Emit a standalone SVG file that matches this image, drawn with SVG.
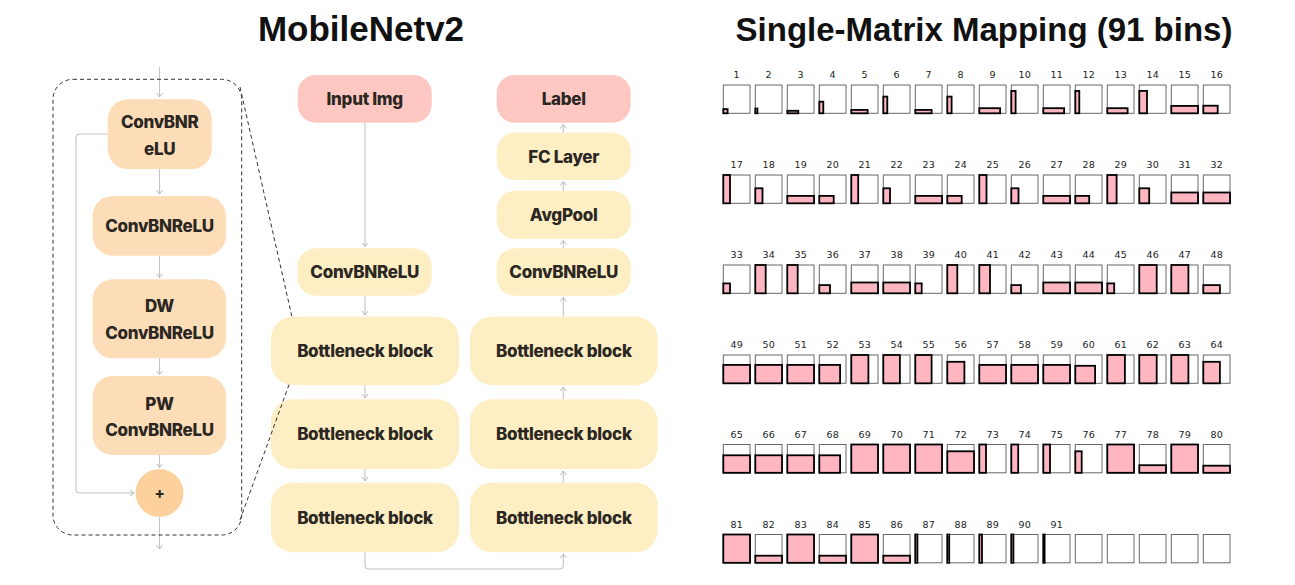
<svg xmlns="http://www.w3.org/2000/svg" xmlns:xlink="http://www.w3.org/1999/xlink" width="1295" height="585" viewBox="0 0 1295 585">
<style>
.title{font-family:"Liberation Sans",Arial,sans-serif;font-weight:700;font-size:33px;fill:#111;text-anchor:middle}
.nt{font-family:Inter,"Liberation Sans",sans-serif;font-weight:800;font-size:17px;fill:#2b2722;text-anchor:middle;letter-spacing:-0.3px}
.peach{fill:#FDDDB8}
.yel{fill:#FEEEC4}
.pink{fill:#FFC7C2}
.plus{fill:#FDD19D}
.cn{fill:none;stroke:#C4C4C4;stroke-width:1.1}
.dash{fill:none;stroke:#333;stroke-width:1;stroke-dasharray:4 3}
.p{fill:#FFB6C1;stroke:#000;stroke-width:1.8}
.n{font-family:"DejaVu Sans",sans-serif;font-size:9.5px;fill:#222;text-anchor:middle}
</style>
<defs>
<marker id="ah" markerWidth="8" markerHeight="8" refX="4" refY="3" orient="auto" markerUnits="userSpaceOnUse">
<path d="M0,0 L4,3 L0,6" fill="none" stroke="#B8B8B8" stroke-width="1"/>
</marker>
<rect id="f" width="26.7" height="28.3" fill="none" stroke="#666" stroke-width="1"/>
</defs>
<rect width="1295" height="585" fill="#fff"/>
<text class="title" x="361" y="41" style="font-size:35px">MobileNetv2</text>
<text class="title" x="984" y="41">Single-Matrix Mapping (91 bins)</text>

<g id="connectors">
<path class="cn" d="M159.5,67 V97" marker-end="url(#ah)"/>
<path class="cn" d="M159.5,169 V194" marker-end="url(#ah)"/>
<path class="cn" d="M159.5,255.7 V277.5" marker-end="url(#ah)"/>
<path class="cn" d="M159.5,358.3 V374.5" marker-end="url(#ah)"/>
<path class="cn" d="M159.5,455 V467.5" marker-end="url(#ah)"/>
<path class="cn" d="M107.7,134 H80 Q76,134 76,138 V489 Q76,493 80,493 H134" marker-end="url(#ah)"/>
<path class="cn" d="M159.5,517.5 V549" marker-end="url(#ah)"/>
<path class="cn" d="M365,122.7 V246.5" marker-end="url(#ah)"/>
<path class="cn" d="M365,295.7 V315" marker-end="url(#ah)"/>
<path class="cn" d="M365,385 V398" marker-end="url(#ah)"/>
<path class="cn" d="M365,469 V481" marker-end="url(#ah)"/>
<path class="cn" d="M365,552.3 V565 Q365,569 369,569 H559.3 Q563.3,569 563.3,565 V554" marker-end="url(#ah)"/>
<path class="cn" d="M563.3,482.7 V471" marker-end="url(#ah)"/>
<path class="cn" d="M563.3,399.3 V387" marker-end="url(#ah)"/>
<path class="cn" d="M563.3,316.7 V297.5" marker-end="url(#ah)"/>
<path class="cn" d="M563.3,248.3 V240.5" marker-end="url(#ah)"/>
<path class="cn" d="M563.3,191 V181.5" marker-end="url(#ah)"/>
<path class="cn" d="M563.3,132.7 V124.5" marker-end="url(#ah)"/>
</g>

<g id="block-detail">
<rect class="dash" x="53" y="79.3" width="188.7" height="455.7" rx="20"/>
</g>
<g id="n-convbnr"><rect class="peach" x="107.7" y="99.3" width="104" height="69.7" rx="20"/><text class="nt" x="159.7" y="128.3">ConvBNR</text><text class="nt" x="159.7" y="154.5">eLU</text></g>
<g id="n-convbnrelu1"><rect class="peach" x="92.7" y="196" width="133.3" height="59.7" rx="20"/><text class="nt" x="159.5" y="232">ConvBNReLU</text></g>
<g id="n-dw"><rect class="peach" x="92.7" y="279.3" width="133.3" height="79" rx="20"/><text class="nt" x="159.5" y="312.3">DW</text><text class="nt" x="159.5" y="339.3">ConvBNReLU</text></g>
<g id="n-pw"><rect class="peach" x="92.7" y="376" width="133.3" height="79" rx="20"/><text class="nt" x="159.5" y="410">PW</text><text class="nt" x="159.5" y="436.3">ConvBNReLU</text></g>
<g id="n-plus"><circle class="plus" cx="159.5" cy="493" r="24"/><text class="nt" x="159.5" y="498.5" style="font-size:15px">+</text></g>

<g id="n-input"><rect class="pink" x="297.7" y="75" width="134" height="47.7" rx="18"/><text class="nt" x="364.7" y="105">Input Img</text></g>
<g id="n-label"><rect class="pink" x="496.7" y="75" width="134" height="47.7" rx="18"/><text class="nt" x="563.7" y="105">Label</text></g>
<g id="n-fc"><rect class="yel" x="496.7" y="132.7" width="134" height="47.3" rx="18"/><text class="nt" x="563.7" y="162.5">FC Layer</text></g>
<g id="n-avgpool"><rect class="yel" x="496.7" y="191" width="134" height="48" rx="18"/><text class="nt" x="563.7" y="221">AvgPool</text></g>
<g id="n-convL"><rect class="yel" x="297.7" y="248.3" width="134" height="47.4" rx="18"/><text class="nt" x="364.7" y="278">ConvBNReLU</text></g>
<g id="n-convR"><rect class="yel" x="496.7" y="248.3" width="134" height="47.4" rx="18"/><text class="nt" x="563.7" y="278">ConvBNReLU</text></g>
<g id="n-bL1"><rect class="yel" x="271" y="316.7" width="188" height="68.3" rx="22"/><text class="nt" x="365" y="357">Bottleneck block</text></g>
<g id="n-bL2"><rect class="yel" x="271" y="399.3" width="188" height="69.7" rx="22"/><text class="nt" x="365" y="440.3">Bottleneck block</text></g>
<g id="n-bL3"><rect class="yel" x="271" y="482.7" width="188" height="69.6" rx="22"/><text class="nt" x="365" y="523.7">Bottleneck block</text></g>
<g id="n-bR1"><rect class="yel" x="470" y="316.7" width="187.7" height="68.3" rx="22"/><text class="nt" x="563.8" y="357">Bottleneck block</text></g>
<g id="n-bR2"><rect class="yel" x="470" y="399.3" width="187.7" height="69.7" rx="22"/><text class="nt" x="563.8" y="440.3">Bottleneck block</text></g>
<g id="n-bR3"><rect class="yel" x="470" y="482.7" width="187.7" height="69.6" rx="22"/><text class="nt" x="563.8" y="523.7">Bottleneck block</text></g>

<g id="zoom-lines">
<path class="dash" d="M240,87 L292,317"/>
<path class="dash" d="M240,520 L290,382"/>
</g>

<g id="matrix-grid">
<g transform="translate(723.3 85)"><use xlink:href="#f"/><rect class="p" y="24.1" width="4.3" height="4.2"/><text class="n" x="13.35" y="-6.7">1</text></g>
<g transform="translate(755.3 85)"><use xlink:href="#f"/><rect class="p" y="23.5" width="2.1" height="4.8"/><text class="n" x="13.35" y="-6.7">2</text></g>
<g transform="translate(787.3 85)"><use xlink:href="#f"/><rect class="p" y="25.8" width="11" height="2.5"/><text class="n" x="13.35" y="-6.7">3</text></g>
<g transform="translate(819.3 85)"><use xlink:href="#f"/><rect class="p" y="16.7" width="4" height="11.6"/><text class="n" x="13.35" y="-6.7">4</text></g>
<g transform="translate(851.3 85)"><use xlink:href="#f"/><rect class="p" y="24.9" width="16.3" height="3.4"/><text class="n" x="13.35" y="-6.7">5</text></g>
<g transform="translate(883.3 85)"><use xlink:href="#f"/><rect class="p" y="11.6" width="4" height="16.7"/><text class="n" x="13.35" y="-6.7">6</text></g>
<g transform="translate(915.3 85)"><use xlink:href="#f"/><rect class="p" y="24.9" width="16.3" height="3.4"/><text class="n" x="13.35" y="-6.7">7</text></g>
<g transform="translate(947.3 85)"><use xlink:href="#f"/><rect class="p" y="11.6" width="4.3" height="16.7"/><text class="n" x="13.35" y="-6.7">8</text></g>
<g transform="translate(979.3 85)"><use xlink:href="#f"/><rect class="p" y="23.2" width="20.8" height="5.1"/><text class="n" x="13.35" y="-6.7">9</text></g>
<g transform="translate(1011.3 85)"><use xlink:href="#f"/><rect class="p" y="5.9" width="4.3" height="22.4"/><text class="n" x="13.35" y="-6.7">10</text></g>
<g transform="translate(1043.3 85)"><use xlink:href="#f"/><rect class="p" y="23.2" width="20.8" height="5.1"/><text class="n" x="13.35" y="-6.7">11</text></g>
<g transform="translate(1075.3 85)"><use xlink:href="#f"/><rect class="p" y="5.9" width="4" height="22.4"/><text class="n" x="13.35" y="-6.7">12</text></g>
<g transform="translate(1107.3 85)"><use xlink:href="#f"/><rect class="p" y="23.2" width="20.3" height="5.1"/><text class="n" x="13.35" y="-6.7">13</text></g>
<g transform="translate(1139.3 85)"><use xlink:href="#f"/><rect class="p" y="5.9" width="7.7" height="22.4"/><text class="n" x="13.35" y="-6.7">14</text></g>
<g transform="translate(1171.3 85)"><use xlink:href="#f"/><rect class="p" y="20.9" width="26.7" height="7.4"/><text class="n" x="13.35" y="-6.7">15</text></g>
<g transform="translate(1203.3 85)"><use xlink:href="#f"/><rect class="p" y="20.7" width="14.4" height="7.6"/><text class="n" x="13.35" y="-6.7">16</text></g>

<g transform="translate(723.3 175)"><use xlink:href="#f"/><rect class="p" y="0" width="6.7" height="28.3"/><text class="n" x="13.35" y="-6.7">17</text></g>
<g transform="translate(755.3 175)"><use xlink:href="#f"/><rect class="p" y="13.3" width="7.2" height="15"/><text class="n" x="13.35" y="-6.7">18</text></g>
<g transform="translate(787.3 175)"><use xlink:href="#f"/><rect class="p" y="20.9" width="26.7" height="7.4"/><text class="n" x="13.35" y="-6.7">19</text></g>
<g transform="translate(819.3 175)"><use xlink:href="#f"/><rect class="p" y="20.9" width="14.4" height="7.4"/><text class="n" x="13.35" y="-6.7">20</text></g>
<g transform="translate(851.3 175)"><use xlink:href="#f"/><rect class="p" y="0" width="6.9" height="28.3"/><text class="n" x="13.35" y="-6.7">21</text></g>
<g transform="translate(883.3 175)"><use xlink:href="#f"/><rect class="p" y="13.3" width="6.7" height="15"/><text class="n" x="13.35" y="-6.7">22</text></g>
<g transform="translate(915.3 175)"><use xlink:href="#f"/><rect class="p" y="20.9" width="26.7" height="7.4"/><text class="n" x="13.35" y="-6.7">23</text></g>
<g transform="translate(947.3 175)"><use xlink:href="#f"/><rect class="p" y="20.9" width="14.4" height="7.4"/><text class="n" x="13.35" y="-6.7">24</text></g>
<g transform="translate(979.3 175)"><use xlink:href="#f"/><rect class="p" y="0" width="7.2" height="28.3"/><text class="n" x="13.35" y="-6.7">25</text></g>
<g transform="translate(1011.3 175)"><use xlink:href="#f"/><rect class="p" y="13.3" width="7.2" height="15"/><text class="n" x="13.35" y="-6.7">26</text></g>
<g transform="translate(1043.3 175)"><use xlink:href="#f"/><rect class="p" y="20.9" width="26.7" height="7.4"/><text class="n" x="13.35" y="-6.7">27</text></g>
<g transform="translate(1075.3 175)"><use xlink:href="#f"/><rect class="p" y="20.9" width="13.9" height="7.4"/><text class="n" x="13.35" y="-6.7">28</text></g>
<g transform="translate(1107.3 175)"><use xlink:href="#f"/><rect class="p" y="0" width="9.3" height="28.3"/><text class="n" x="13.35" y="-6.7">29</text></g>
<g transform="translate(1139.3 175)"><use xlink:href="#f"/><rect class="p" y="13.3" width="9.9" height="15"/><text class="n" x="13.35" y="-6.7">30</text></g>
<g transform="translate(1171.3 175)"><use xlink:href="#f"/><rect class="p" y="17.5" width="26.7" height="10.8"/><text class="n" x="13.35" y="-6.7">31</text></g>
<g transform="translate(1203.3 175)"><use xlink:href="#f"/><rect class="p" y="17.5" width="26.7" height="10.8"/><text class="n" x="13.35" y="-6.7">32</text></g>

<g transform="translate(723.3 265)"><use xlink:href="#f"/><rect class="p" y="18.4" width="6.7" height="9.9"/><text class="n" x="13.35" y="-6.7">33</text></g>
<g transform="translate(755.3 265)"><use xlink:href="#f"/><rect class="p" y="0" width="10.4" height="28.3"/><text class="n" x="13.35" y="-6.7">34</text></g>
<g transform="translate(787.3 265)"><use xlink:href="#f"/><rect class="p" y="0" width="10.4" height="28.3"/><text class="n" x="13.35" y="-6.7">35</text></g>
<g transform="translate(819.3 265)"><use xlink:href="#f"/><rect class="p" y="20.1" width="10.7" height="8.2"/><text class="n" x="13.35" y="-6.7">36</text></g>
<g transform="translate(851.3 265)"><use xlink:href="#f"/><rect class="p" y="17.5" width="26.7" height="10.8"/><text class="n" x="13.35" y="-6.7">37</text></g>
<g transform="translate(883.3 265)"><use xlink:href="#f"/><rect class="p" y="17.5" width="26.7" height="10.8"/><text class="n" x="13.35" y="-6.7">38</text></g>
<g transform="translate(915.3 265)"><use xlink:href="#f"/><rect class="p" y="18.4" width="6.4" height="9.9"/><text class="n" x="13.35" y="-6.7">39</text></g>
<g transform="translate(947.3 265)"><use xlink:href="#f"/><rect class="p" y="0" width="10" height="28.3"/><text class="n" x="13.35" y="-6.7">40</text></g>
<g transform="translate(979.3 265)"><use xlink:href="#f"/><rect class="p" y="0" width="10.7" height="28.3"/><text class="n" x="13.35" y="-6.7">41</text></g>
<g transform="translate(1011.3 265)"><use xlink:href="#f"/><rect class="p" y="20.1" width="9.6" height="8.2"/><text class="n" x="13.35" y="-6.7">42</text></g>
<g transform="translate(1043.3 265)"><use xlink:href="#f"/><rect class="p" y="17.5" width="26.7" height="10.8"/><text class="n" x="13.35" y="-6.7">43</text></g>
<g transform="translate(1075.3 265)"><use xlink:href="#f"/><rect class="p" y="17.5" width="26.7" height="10.8"/><text class="n" x="13.35" y="-6.7">44</text></g>
<g transform="translate(1107.3 265)"><use xlink:href="#f"/><rect class="p" y="18.4" width="6.9" height="9.9"/><text class="n" x="13.35" y="-6.7">45</text></g>
<g transform="translate(1139.3 265)"><use xlink:href="#f"/><rect class="p" y="0" width="17.4" height="28.3"/><text class="n" x="13.35" y="-6.7">46</text></g>
<g transform="translate(1171.3 265)"><use xlink:href="#f"/><rect class="p" y="0" width="17.1" height="28.3"/><text class="n" x="13.35" y="-6.7">47</text></g>
<g transform="translate(1203.3 265)"><use xlink:href="#f"/><rect class="p" y="20.1" width="16.6" height="8.2"/><text class="n" x="13.35" y="-6.7">48</text></g>

<g transform="translate(723.3 355)"><use xlink:href="#f"/><rect class="p" y="9.9" width="26.7" height="18.4"/><text class="n" x="13.35" y="-6.7">49</text></g>
<g transform="translate(755.3 355)"><use xlink:href="#f"/><rect class="p" y="9.9" width="26.7" height="18.4"/><text class="n" x="13.35" y="-6.7">50</text></g>
<g transform="translate(787.3 355)"><use xlink:href="#f"/><rect class="p" y="9.9" width="26.7" height="18.4"/><text class="n" x="13.35" y="-6.7">51</text></g>
<g transform="translate(819.3 355)"><use xlink:href="#f"/><rect class="p" y="9.9" width="20.8" height="18.4"/><text class="n" x="13.35" y="-6.7">52</text></g>
<g transform="translate(851.3 355)"><use xlink:href="#f"/><rect class="p" y="0" width="17.1" height="28.3"/><text class="n" x="13.35" y="-6.7">53</text></g>
<g transform="translate(883.3 355)"><use xlink:href="#f"/><rect class="p" y="0" width="16.6" height="28.3"/><text class="n" x="13.35" y="-6.7">54</text></g>
<g transform="translate(915.3 355)"><use xlink:href="#f"/><rect class="p" y="0" width="16.3" height="28.3"/><text class="n" x="13.35" y="-6.7">55</text></g>
<g transform="translate(947.3 355)"><use xlink:href="#f"/><rect class="p" y="6.8" width="17.1" height="21.5"/><text class="n" x="13.35" y="-6.7">56</text></g>
<g transform="translate(979.3 355)"><use xlink:href="#f"/><rect class="p" y="9.9" width="26.7" height="18.4"/><text class="n" x="13.35" y="-6.7">57</text></g>
<g transform="translate(1011.3 355)"><use xlink:href="#f"/><rect class="p" y="9.9" width="26.7" height="18.4"/><text class="n" x="13.35" y="-6.7">58</text></g>
<g transform="translate(1043.3 355)"><use xlink:href="#f"/><rect class="p" y="9.9" width="26.7" height="18.4"/><text class="n" x="13.35" y="-6.7">59</text></g>
<g transform="translate(1075.3 355)"><use xlink:href="#f"/><rect class="p" y="10.8" width="19.8" height="17.5"/><text class="n" x="13.35" y="-6.7">60</text></g>
<g transform="translate(1107.3 355)"><use xlink:href="#f"/><rect class="p" y="0" width="17.6" height="28.3"/><text class="n" x="13.35" y="-6.7">61</text></g>
<g transform="translate(1139.3 355)"><use xlink:href="#f"/><rect class="p" y="0" width="17.4" height="28.3"/><text class="n" x="13.35" y="-6.7">62</text></g>
<g transform="translate(1171.3 355)"><use xlink:href="#f"/><rect class="p" y="0" width="17.1" height="28.3"/><text class="n" x="13.35" y="-6.7">63</text></g>
<g transform="translate(1203.3 355)"><use xlink:href="#f"/><rect class="p" y="6.8" width="16.6" height="21.5"/><text class="n" x="13.35" y="-6.7">64</text></g>

<g transform="translate(723.3 444.5)"><use xlink:href="#f"/><rect class="p" y="10.8" width="26.7" height="17.5"/><text class="n" x="13.35" y="-6.7">65</text></g>
<g transform="translate(755.3 444.5)"><use xlink:href="#f"/><rect class="p" y="10.8" width="26.7" height="17.5"/><text class="n" x="13.35" y="-6.7">66</text></g>
<g transform="translate(787.3 444.5)"><use xlink:href="#f"/><rect class="p" y="10.8" width="26.7" height="17.5"/><text class="n" x="13.35" y="-6.7">67</text></g>
<g transform="translate(819.3 444.5)"><use xlink:href="#f"/><rect class="p" y="10.8" width="20.8" height="17.5"/><text class="n" x="13.35" y="-6.7">68</text></g>
<g transform="translate(851.3 444.5)"><use xlink:href="#f"/><rect class="p" y="0" width="26.7" height="28.3"/><text class="n" x="13.35" y="-6.7">69</text></g>
<g transform="translate(883.3 444.5)"><use xlink:href="#f"/><rect class="p" y="0" width="26.7" height="28.3"/><text class="n" x="13.35" y="-6.7">70</text></g>
<g transform="translate(915.3 444.5)"><use xlink:href="#f"/><rect class="p" y="0" width="26.7" height="28.3"/><text class="n" x="13.35" y="-6.7">71</text></g>
<g transform="translate(947.3 444.5)"><use xlink:href="#f"/><rect class="p" y="6.8" width="26.7" height="21.5"/><text class="n" x="13.35" y="-6.7">72</text></g>
<g transform="translate(979.3 444.5)"><use xlink:href="#f"/><rect class="p" y="0" width="6.7" height="28.3"/><text class="n" x="13.35" y="-6.7">73</text></g>
<g transform="translate(1011.3 444.5)"><use xlink:href="#f"/><rect class="p" y="0" width="6.9" height="28.3"/><text class="n" x="13.35" y="-6.7">74</text></g>
<g transform="translate(1043.3 444.5)"><use xlink:href="#f"/><rect class="p" y="0" width="6.7" height="28.3"/><text class="n" x="13.35" y="-6.7">75</text></g>
<g transform="translate(1075.3 444.5)"><use xlink:href="#f"/><rect class="p" y="6.8" width="6.4" height="21.5"/><text class="n" x="13.35" y="-6.7">76</text></g>
<g transform="translate(1107.3 444.5)"><use xlink:href="#f"/><rect class="p" y="0" width="26.7" height="28.3"/><text class="n" x="13.35" y="-6.7">77</text></g>
<g transform="translate(1139.3 444.5)"><use xlink:href="#f"/><rect class="p" y="20.7" width="26.7" height="7.6"/><text class="n" x="13.35" y="-6.7">78</text></g>
<g transform="translate(1171.3 444.5)"><use xlink:href="#f"/><rect class="p" y="0" width="26.7" height="28.3"/><text class="n" x="13.35" y="-6.7">79</text></g>
<g transform="translate(1203.3 444.5)"><use xlink:href="#f"/><rect class="p" y="21.2" width="26.7" height="7.1"/><text class="n" x="13.35" y="-6.7">80</text></g>

<g transform="translate(723.3 534.5)"><use xlink:href="#f"/><rect class="p" y="0" width="26.7" height="28.3"/><text class="n" x="13.35" y="-6.7">81</text></g>
<g transform="translate(755.3 534.5)"><use xlink:href="#f"/><rect class="p" y="21.2" width="26.7" height="7.1"/><text class="n" x="13.35" y="-6.7">82</text></g>
<g transform="translate(787.3 534.5)"><use xlink:href="#f"/><rect class="p" y="0" width="26.7" height="28.3"/><text class="n" x="13.35" y="-6.7">83</text></g>
<g transform="translate(819.3 534.5)"><use xlink:href="#f"/><rect class="p" y="21.2" width="26.7" height="7.1"/><text class="n" x="13.35" y="-6.7">84</text></g>
<g transform="translate(851.3 534.5)"><use xlink:href="#f"/><rect class="p" y="0" width="26.7" height="28.3"/><text class="n" x="13.35" y="-6.7">85</text></g>
<g transform="translate(883.3 534.5)"><use xlink:href="#f"/><rect class="p" y="21.2" width="26.7" height="7.1"/><text class="n" x="13.35" y="-6.7">86</text></g>
<g transform="translate(915.3 534.5)"><use xlink:href="#f"/><rect class="p" y="0" width="2.1" height="28.3"/><text class="n" x="13.35" y="-6.7">87</text></g>
<g transform="translate(947.3 534.5)"><use xlink:href="#f"/><rect class="p" y="0" width="1.9" height="28.3"/><text class="n" x="13.35" y="-6.7">88</text></g>
<g transform="translate(979.3 534.5)"><use xlink:href="#f"/><rect class="p" y="0" width="2.7" height="28.3"/><text class="n" x="13.35" y="-6.7">89</text></g>
<g transform="translate(1011.3 534.5)"><use xlink:href="#f"/><rect class="p" y="0" width="2.1" height="28.3"/><text class="n" x="13.35" y="-6.7">90</text></g>
<g transform="translate(1043.3 534.5)"><use xlink:href="#f"/><rect class="p" y="0" width="1.3" height="28.3"/><text class="n" x="13.35" y="-6.7">91</text></g>
<g transform="translate(1075.3 534.5)"><use xlink:href="#f"/></g>
<g transform="translate(1107.3 534.5)"><use xlink:href="#f"/></g>
<g transform="translate(1139.3 534.5)"><use xlink:href="#f"/></g>
<g transform="translate(1171.3 534.5)"><use xlink:href="#f"/></g>
<g transform="translate(1203.3 534.5)"><use xlink:href="#f"/></g>
</g>
</svg>
